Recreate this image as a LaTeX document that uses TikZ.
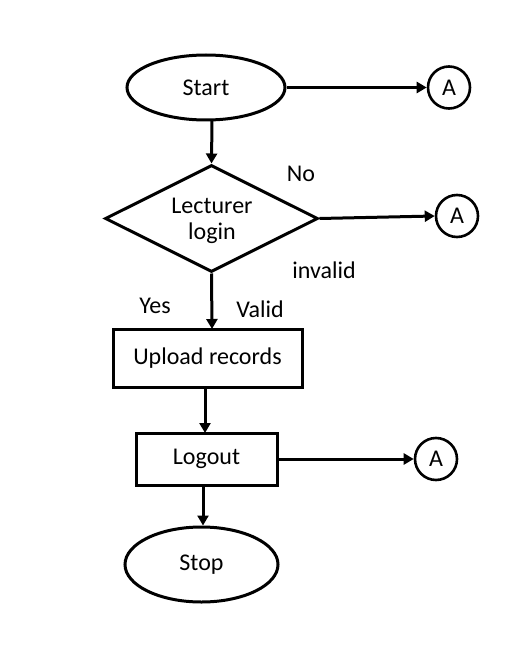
\documentclass[tikz,border=0pt]{standalone}
\usepackage{fontspec}
\setmainfont{Carlito}
\usetikzlibrary{shapes.geometric,arrows.meta}
\begin{document}
\begin{tikzpicture}[x=1pt,y=-1pt,
  every node/.style={font=\fontsize{24}{28}\selectfont},
  term/.style={ellipse,draw,line width=3pt,inner sep=0pt},
  proc/.style={rectangle,draw,line width=3pt,inner sep=0pt},
  dec/.style={diamond,draw,line width=3pt,inner sep=0pt,aspect=2},
  conn/.style={circle,draw,line width=2.6pt,minimum size=42pt,inner sep=0pt},
  lbl/.style={inner sep=0pt},
  arr/.style={line width=3pt,-{Triangle[length=10pt,width=11pt]}}]
\useasboundingbox (0,0) rectangle (532,663);
\node[term,minimum width=158pt,minimum height=65pt] (start) at (206,87.5) {Start};
\node[conn] (a1) at (449,87.5) {A};
\node[dec,minimum width=213pt,minimum height=107pt] (dec) at (211.5,218.5) {};
\node[lbl] (t1) at (212,206) {Lecturer};
\node[lbl] (t2) at (212,233) {login};
\node[conn] (a2) at (457,216) {A};
\node[lbl] (no) at (301,174) {No};
\node[lbl] (inv) at (324,270) {invalid};
\node[lbl] (yes) at (155,306) {Yes};
\node[lbl] (val) at (260,309) {Valid};
\node[proc,minimum width=189pt,minimum height=58pt] (up) at (207.5,358) {Upload records};
\node[proc,minimum width=141pt,minimum height=52pt] (lo) at (206.5,459) {Logout};
\node[conn] (a3) at (436,459) {A};
\node[term,minimum width=153pt,minimum height=75pt] (stop) at (201.5,564.5) {Stop};
\draw[arr] (start.east) -- (a1.west);
\draw[arr] (212,120) -- (dec.north);
\draw[arr] (dec.east) -- (a2.west);
\draw[arr] (dec.south) -- (212,329);
\draw[arr] (205,387) -- (205,433);
\draw[arr] (lo.east) -- (a3.west);
\draw[arr] (203,485) -- (stop.north -| 203,0);
\end{tikzpicture}
\end{document}
